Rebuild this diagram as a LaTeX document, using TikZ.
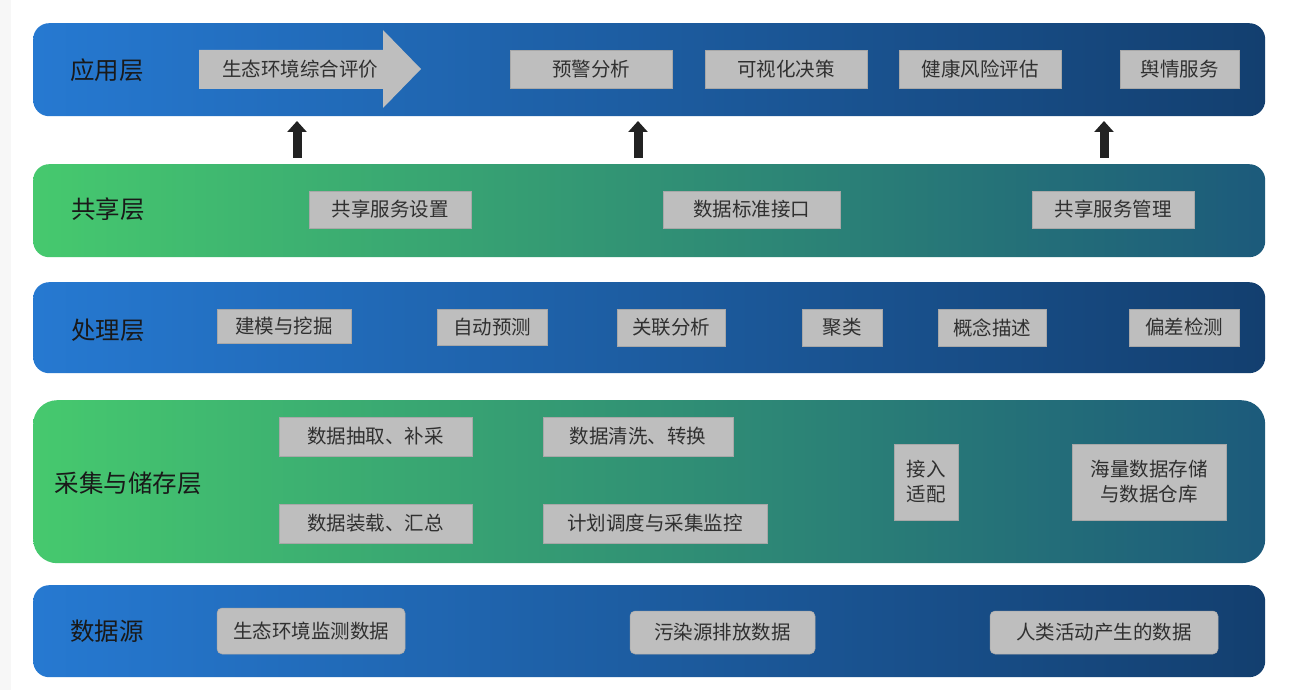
\documentclass[tikz,border=0pt]{standalone}
\usepackage{fontspec}
\newfontfamily\cjk{Noto Sans CJK SC}
\usetikzlibrary{arrows.meta}
\definecolor{bluel}{HTML}{2679D1}
\definecolor{bluem}{HTML}{2166B5}
\definecolor{bluer}{HTML}{133F6F}
\definecolor{greenl}{HTML}{46C96E}
\definecolor{greenm}{HTML}{36A577}
\definecolor{greenr}{HTML}{1C5A7B}
\definecolor{boxgray}{HTML}{BEBEBE}
\definecolor{boxedge}{HTML}{A8A8A8}
\definecolor{txt}{HTML}{303030}
\definecolor{arrowc}{HTML}{222222}
\tikzset{
  layer/.style={anchor=north west, rounded corners=16pt, minimum width=1232pt, inner sep=0pt},
  bluelayer/.style={layer, left color=bluel, middle color=bluem, right color=bluer},
  greenlayer/.style={layer, left color=greenl, middle color=greenm, right color=greenr},
  lab/.style={text=black!90, font=\cjk\fontsize{24.5}{27}\selectfont, inner sep=0pt},
  box/.style={fill=boxgray, draw=boxedge, line width=0.5pt, text=txt, font=\cjk\fontsize{19.5}{24}\selectfont, inner sep=0pt, align=center},
  rbox/.style={box, rounded corners=5pt},
  uparr/.style={draw=arrowc, line width=9pt, -{Triangle[width=19pt,length=11pt]}}
}
\begin{document}
\begin{tikzpicture}[x=1pt,y=-1pt]
\useasboundingbox (0,0) rectangle (1291,690);
\fill[white] (0,0) rectangle (1291,690);
\fill[black!3] (0,0) rectangle (11,690);
% layers
\node[bluelayer, minimum height=93pt] (L1) at (33,23) {};
\node[greenlayer, minimum height=93pt] (L2) at (33,164) {};
\node[bluelayer, minimum height=91pt] (L3) at (33,282) {};
\node[greenlayer, minimum height=163pt, rounded corners=24pt] (L4) at (33,400) {};
\node[bluelayer, minimum height=92pt] (L5) at (33,585) {};
% layer labels
\node[lab] (t1) at (107,70) {应用层};
\node[lab] (t2) at (108,209) {共享层};
\node[lab] (t3) at (108,330) {处理层};
\node[lab] (t4) at (128,483) {采集与储存层};
\node[lab] (t5) at (107,631) {数据源};
% application layer
\fill[boxgray] (199,50) -- (383,50) -- (383,30) -- (421,69) -- (383,108) -- (383,89) -- (199,89) -- cycle;
\node[text=txt, font=\cjk\fontsize{19.5}{24}\selectfont, inner sep=0pt] (eval) at (300,69) {生态环境综合评价};
\node[box, minimum width=162pt, minimum height=38pt] (a1) at (591,69) {预警分析};
\node[box, minimum width=162pt, minimum height=38pt] (a2) at (786,69) {可视化决策};
\node[box, minimum width=162pt, minimum height=38pt] (a3) at (980,69) {健康风险评估};
\node[box, minimum width=119pt, minimum height=38pt] (a4) at (1179.5,69) {舆情服务};
% arrows
\coordinate (u1s) at (297,158); \coordinate (u1e) at (297,121);
\coordinate (u2s) at (638,158); \coordinate (u2e) at (638,121);
\coordinate (u3s) at (1104,158); \coordinate (u3e) at (1104,121);
\draw[uparr] (u1s) -- (u1e);
\draw[uparr] (u2s) -- (u2e);
\draw[uparr] (u3s) -- (u3e);
% sharing layer
\node[box, minimum width=162pt, minimum height=37pt] (s1) at (390,209.5) {共享服务设置};
\node[box, minimum width=177pt, minimum height=37pt] (s2) at (751.5,209.5) {数据标准接口};
\node[box, minimum width=162pt, minimum height=37pt] (s3) at (1113,209.5) {共享服务管理};
% processing layer
\node[box, minimum width=134pt, minimum height=34pt] (p1) at (284,326) {建模与挖掘};
\node[box, minimum width=110pt, minimum height=36pt] (p2) at (492,327) {自动预测};
\node[box, minimum width=108pt, minimum height=37pt] (p3) at (671,327.5) {关联分析};
\node[box, minimum width=80pt, minimum height=37pt] (p4) at (842,327.5) {聚类};
\node[box, minimum width=108pt, minimum height=37pt] (p5) at (992,327.5) {概念描述};
\node[box, minimum width=110pt, minimum height=37pt] (p6) at (1184,327.5) {偏差检测};
% collection & storage layer
\node[box, minimum width=193pt, minimum height=39pt] (c1) at (375.5,436.5) {数据抽取、补采};
\node[box, minimum width=193pt, minimum height=39pt] (c2) at (375.5,523.5) {数据装载、汇总};
\node[box, minimum width=190pt, minimum height=39pt] (c3) at (638,436.5) {数据清洗、转换};
\node[box, minimum width=224pt, minimum height=39pt] (c4) at (655,523.5) {计划调度与采集监控};
\node[box, minimum width=64pt, minimum height=76pt, font=\cjk\fontsize{19.5}{25}\selectfont] (c5) at (926,482) {接入\\适配};
\node[box, minimum width=154pt, minimum height=76pt, font=\cjk\fontsize{19.5}{25}\selectfont] (c6) at (1149,482) {海量数据存储\\与数据仓库};
% data sources
\node[rbox, minimum width=188pt, minimum height=46pt] (d1) at (311,631) {生态环境监测数据};
\node[rbox, minimum width=185pt, minimum height=43pt] (d2) at (722.5,632.5) {污染源排放数据};
\node[rbox, minimum width=228pt, minimum height=43pt] (d3) at (1104,632.5) {人类活动产生的数据};
\end{tikzpicture}
\end{document}
